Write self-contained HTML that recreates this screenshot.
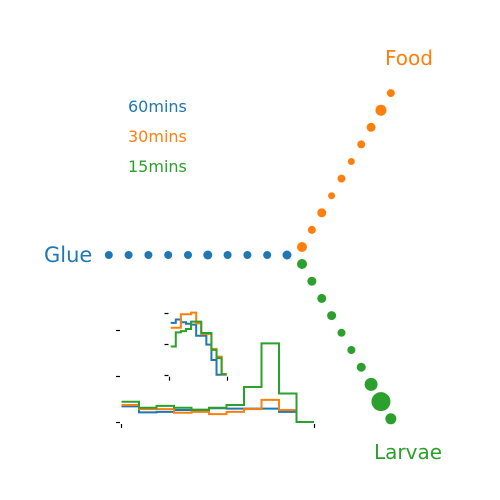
<!DOCTYPE html>
<html><head><meta charset="utf-8"><style>
html,body{margin:0;padding:0;background:#fff;}
svg{display:block;font-family:"DejaVu Sans","Liberation Sans",sans-serif;}
</style></head><body>
<svg id="c" width="500" height="500" viewBox="0 0 500 500">
<text x="44" y="262" font-size="21" fill="#1f77b4">Glue</text>
<text x="385" y="65" font-size="20" fill="#ff7f0e">Food</text>
<text x="374" y="459" font-size="20" fill="#2ca02c">Larvae</text>
<text x="128" y="112" font-size="16" fill="#1f77b4">60mins</text>
<text x="128" y="142" font-size="16" fill="#ff7f0e">30mins</text>
<text x="128" y="172" font-size="16" fill="#2ca02c">15mins</text>
<g id="dots"></g>
<g id="mainhist"></g>
<g id="inset"></g>
</svg>
<script>
// dot sizes (radius) along each arm, index 0 nearest center
const glueSizes = [4.5,4,4,4,4.5,4,4,4,4,4];
const foodSizes = [5,4,4.5,3.5,4,3.5,4,4.5,5.5,4];
const larvaeSizes = [5,4.5,4.5,4.5,4,4,4.5,6.5,9.5,5.5];
// main histogram values (tick units), 11 bins
const mainBlue = [0.34,0.21,0.22,0.26,0.26,0.30,0.29,0.29,0.29,0.22,0];
const mainOrange = [0.37,0.28,0.28,0.20,0.22,0.17,0.22,0.28,0.48,0.26,0];
const mainGreen = [0.44,0.31,0.35,0.31,0.27,0.31,0.37,0.76,1.71,0.62,0];
// inset histogram values (tick units), 11 bins
const insetBlue = [1.69,1.80,1.71,1.66,1.63,1.27,1.27,0.98,0.48,0,0];
const insetOrange = [1.53,1.53,1.97,1.97,2.02,1.67,1.32,1.32,0.84,0.59,0.01];
const insetGreen = [0.92,1.38,1.42,1.49,1.73,1.73,1.36,1.36,0.81,0.54,0.02];

const NS="http://www.w3.org/2000/svg";
const colors={blue:"#1f77b4",orange:"#ff7f0e",green:"#2ca02c"};
function mk(tag,attrs,parent){const e=document.createElementNS(NS,tag);for(const k in attrs)e.setAttribute(k,attrs[k]);parent.appendChild(e);return e;}

const dots=document.getElementById('dots');
glueSizes.forEach((r,i)=>{
  const c=mk('circle',{cx:287-19.8*i,cy:255,r:r,fill:colors.blue},dots);
  
  
});
foodSizes.forEach((r,i)=>{
  const c=mk('circle',{cx:302+9.87*i,cy:247-17.1*i,r:r,fill:colors.orange},dots);
  
  
});
larvaeSizes.forEach((r,i)=>{
  const c=mk('circle',{cx:302+9.87*i,cy:264+17.2*i,r:r,fill:colors.green},dots);
  
  
});

function stepPath(vals,x0,x1,y0,unit){
  const w=(x1-x0)/vals.length;
  let d=`M${x0},${y0-vals[0]*unit}`;
  vals.forEach((v,i)=>{const y=y0-v*unit;d+=` L${x0+w*i},${y} L${x0+w*(i+1)},${y}`;});
  return d;
}
function hist(g,x0,x1,y0,unit,series,ticksY,ticksX,tickLeft){
  ticksY.forEach(t=>{const y=Math.round(y0-t*unit)+0.5;const l=mk('line',{x1:tickLeft,x2:tickLeft+4,y1:y,y2:y,stroke:"#000","stroke-width":1.2},g);
    });
  ticksX.forEach(x=>{const xx=Math.round(x)+0.5;const l=mk('line',{x1:xx,x2:xx,y1:y0+2,y2:y0+6,stroke:"#000","stroke-width":1.2},g);
    });
  series.forEach(([vals,col])=>{
    const p=mk('path',{d:stepPath(vals,x0,x1,y0,unit),fill:"none",stroke:col,"stroke-width":2},g);
    
  });
}
const yTicks=[0,1,2];
hist(document.getElementById('mainhist'),121.5,314,422,46,
  [[mainBlue,colors.blue],[mainOrange,colors.orange],[mainGreen,colors.green]],yTicks,[121,314],116);
hist(document.getElementById('inset'),170.7,226.7,374.7,30.7,
  [[insetBlue,colors.blue],[insetOrange,colors.orange],[insetGreen,colors.green]],yTicks,[169,227],164.5);
</script>
</body></html>
